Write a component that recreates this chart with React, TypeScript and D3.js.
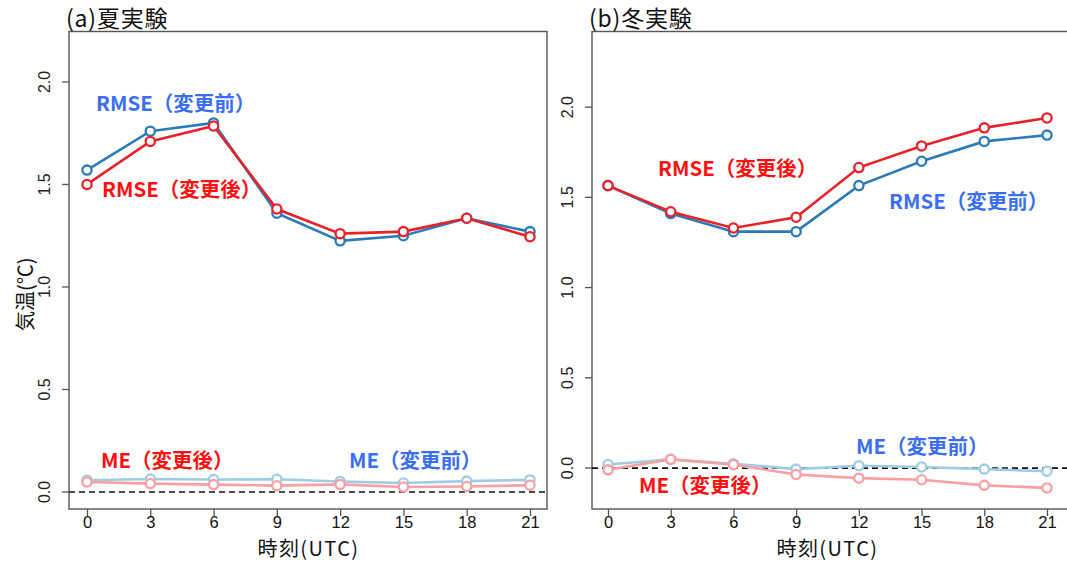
import { useEffect, useRef } from "react";
import * as d3 from "d3";

const hours = [0, 3, 6, 9, 12, 15, 18, 21];

// (a) summer
const sumRmseBefore = [1.57, 1.76, 1.8, 1.36, 1.225, 1.25, 1.335, 1.27];
const sumRmseAfter = [1.5, 1.71, 1.785, 1.38, 1.26, 1.27, 1.335, 1.245];
const sumMeBefore = [0.057, 0.063, 0.061, 0.062, 0.051, 0.044, 0.053, 0.059];
const sumMeAfter = [0.049, 0.041, 0.036, 0.031, 0.037, 0.024, 0.027, 0.033];

// (b) winter
const winRmseBefore = [1.565, 1.41, 1.31, 1.31, 1.565, 1.7, 1.81, 1.845];
const winRmseAfter = [1.565, 1.42, 1.33, 1.39, 1.665, 1.785, 1.885, 1.94];
const winMeBefore = [0.02, 0.048, 0.024, -0.006, 0.013, 0.006, -0.006, -0.018];
const winMeAfter = [-0.01, 0.048, 0.018, -0.036, -0.056, -0.065, -0.096, -0.11];

const yTicks = [0, 0.5, 1, 1.5, 2];

const C = {
  rmseBefore: "#2b7bba",
  rmseAfter: "#e8222a",
  meBefore: "#9fcbe3",
  meAfter: "#f9a0a3",
  lblBlue: "#3b6ff2",
  lblRed: "#ff1010",
};

const JP = "'Noto Sans CJK JP', 'Noto Sans', sans-serif";
const LAT = "'Liberation Sans', Arial, sans-serif";

interface PanelCfg {
  title: string;
  left: number;
  right: number;
  x0: number;
  x21: number;
  yDomain: [number, number];
  series: { values: number[]; color: string }[];
  labels: { text: string; x: number; y: number; color: string }[];
  yLabel?: string;
}

const panels: PanelCfg[] = [
  {
    title: "(a)夏実験",
    left: 69,
    right: 547,
    x0: 87,
    x21: 530,
    yDomain: [-0.083, 2.246],
    series: [
      { values: sumMeBefore, color: C.meBefore },
      { values: sumMeAfter, color: C.meAfter },
      { values: sumRmseBefore, color: C.rmseBefore },
      { values: sumRmseAfter, color: C.rmseAfter },
    ],
    labels: [
      { text: "RMSE（変更前）", x: 96, y: 111, color: C.lblBlue },
      { text: "RMSE（変更後）", x: 102, y: 197, color: C.lblRed },
      { text: "ME（変更後）", x: 101, y: 468, color: C.lblRed },
      { text: "ME（変更前）", x: 349, y: 468, color: C.lblBlue },
    ],
    yLabel: "気温(℃)",
  },
  {
    title: "(b)冬実験",
    left: 592,
    right: 1075,
    x0: 608,
    x21: 1047,
    yDomain: [-0.227, 2.419],
    series: [
      { values: winMeBefore, color: C.meBefore },
      { values: winMeAfter, color: C.meAfter },
      { values: winRmseBefore, color: C.rmseBefore },
      { values: winRmseAfter, color: C.rmseAfter },
    ],
    labels: [
      { text: "RMSE（変更後）", x: 658, y: 176, color: C.lblRed },
      { text: "RMSE（変更前）", x: 889, y: 209, color: C.lblBlue },
      { text: "ME（変更前）", x: 856, y: 454, color: C.lblBlue },
      { text: "ME（変更後）", x: 639, y: 493, color: C.lblRed },
    ],
  },
];

const top = 31.5,
  bottom = 509;

export default function App() {
  const ref = useRef<SVGSVGElement>(null);

  useEffect(() => {
    const svg = d3.select(ref.current!);
    svg.selectAll("*").remove();
    svg.append("rect").attr("width", 1067).attr("height", 563).attr("fill", "#fff");

    panels.forEach((p) => {
      const g = svg.append("g");
      const x = d3.scaleLinear().domain([0, 21]).range([p.x0, p.x21]);
      const y = d3.scaleLinear().domain(p.yDomain).range([bottom, top]);

      // box
      g.append("rect")
        .attr("x", p.left)
        .attr("y", top)
        .attr("width", p.right - p.left)
        .attr("height", bottom - top)
        .attr("fill", "none")
        .attr("stroke", "#555")
        .attr("stroke-width", 1.4);

      // title
      g.append("text")
        .attr("x", p.left - 3)
        .attr("y", 27)
        .attr("font-family", JP)
        .attr("font-size", 23)
        .attr("letter-spacing", 0.8)
        .attr("fill", "#111")
        .text(p.title);

      // y axis (labels rotated, parallel to the axis)
      const yAxis = g
        .append("g")
        .attr("transform", `translate(${p.left},0)`)
        .call(d3.axisLeft(y).tickValues(yTicks).tickFormat(d3.format(".1f")).tickSizeOuter(0).tickSize(7));
      yAxis.select(".domain").remove();
      yAxis.selectAll(".tick").attr("transform", null);
      yAxis
        .selectAll(".tick line")
        .attr("stroke", "#555")
        .attr("stroke-width", 1.3)
        .attr("y1", (d: any) => y(d))
        .attr("y2", (d: any) => y(d));
      yAxis
        .selectAll(".tick text")
        .attr("font-family", LAT)
        .attr("font-size", 16)
        .attr("fill", "#222")
        .attr("x", null)
        .attr("dy", null)
        .attr("y", 0)
        .attr("text-anchor", "middle")
        .attr("transform", (d: any) => `translate(-19,${y(d)}) rotate(-90)`);

      // x axis
      const xAxis = g
        .append("g")
        .attr("transform", `translate(0,${bottom})`)
        .call(d3.axisBottom(x).tickValues(hours).tickSizeOuter(0).tickSize(7));
      xAxis.select(".domain").remove();
      xAxis.selectAll("line").attr("stroke", "#555").attr("stroke-width", 1.3);
      xAxis
        .selectAll("text")
        .attr("font-family", LAT)
        .attr("font-size", 16.5)
        .attr("fill", "#111")
        .attr("y", 7);

      g.append("text")
        .attr("x", (p.x0 + p.x21) / 2)
        .attr("y", 556)
        .attr("text-anchor", "middle")
        .attr("font-family", JP)
        .attr("font-size", 20)
        .attr("letter-spacing", 1.4)
        .attr("fill", "#111")
        .text("時刻(UTC)");

      if (p.yLabel) {
        g.append("text")
          .attr("transform", `translate(33,${(top + bottom) / 2 + 24}) rotate(-90)`)
          .attr("text-anchor", "middle")
          .attr("font-family", JP)
          .attr("font-size", 20)
          .attr("fill", "#111")
          .text(p.yLabel);
      }

      // zero line
      g.append("line")
        .attr("x1", p.left)
        .attr("x2", p.right)
        .attr("y1", y(0))
        .attr("y2", y(0))
        .attr("stroke", "#111")
        .attr("stroke-width", 1.7)
        .attr("stroke-dasharray", "6,4");

      const line = d3
        .line<number>()
        .x((_, i) => x(hours[i]))
        .y((d) => y(d));

      p.series.forEach((s) => {
        g.append("path")
          .datum(s.values)
          .attr("d", line)
          .attr("fill", "none")
          .attr("stroke", s.color)
          .attr("stroke-width", 2.6);
        g.selectAll(null)
          .data(s.values)
          .enter()
          .append("circle")
          .attr("cx", (_, i) => x(hours[i]))
          .attr("cy", (d) => y(d))
          .attr("r", 4.6)
          .attr("fill", "#fff")
          .attr("stroke", s.color)
          .attr("stroke-width", 2.3);
      });

      p.labels.forEach((l) => {
        g.append("text")
          .attr("x", l.x)
          .attr("y", l.y)
          .attr("font-family", JP)
          .attr("font-weight", "bold")
          .attr("font-size", 20.5)
          .attr("fill", l.color)
          .text(l.text);
      });
    });
  }, []);

  return (
    <svg
      ref={ref}
      width={1067}
      height={563}
      style={{ position: "absolute", left: 0, top: 0, display: "block" }}
    />
  );
}
